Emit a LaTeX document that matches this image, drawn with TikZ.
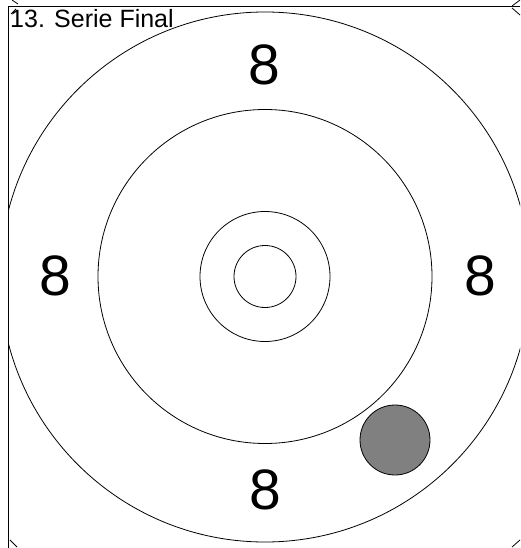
\documentclass[tikz,border=0pt]{standalone}
\usepackage{fontspec}
\setmainfont{Liberation Sans}
\usetikzlibrary{positioning}

\begin{document}
\begin{tikzpicture}[x=1pt, y=-1pt,
ring/.style={draw, line width=0.8pt},
score/.style={font=\fontsize{57}{57}\selectfont, inner sep=0pt},
edge/.style={line width=0.8pt}]
    \useasboundingbox (0,0) rectangle (520,548);
    % frame
    \draw[edge] (520,6) -- (8,6) -- (8,548);
    \draw[edge] (12,0) -- (18,4);
    \draw[edge] (11,14) -- (16,9);
    \draw[edge] (512,6) -- (520,0);
    \draw[edge] (512,8) -- (520,15);
    \draw[edge] (10,540) -- (17,547);
    \draw[edge] (512,547) -- (520,540);
    % rings
    \coordinate (centre) at (265,276.5);
    \begin{scope}
        \clip (8.4,6) rectangle (520,548);
        \draw[ring] (265,277) circle (265);
    \end{scope}
    \draw[ring] (centre) circle (167);
    \draw[ring] (centre) circle (65);
    \draw[ring] (centre) circle (31);
    % hit
    \draw[ring, fill={rgb,255:red,128;green,128;blue,128}] (395,440) circle (35);
    % scores
    \node[score] (top) at (264,65) {8};
    \node[score] (left) at (55,276) {8};
    \node[score] (right) at (480,276) {8};
    \node[score] (bottom) at (265,490) {8};
    \node[font=\fontsize{25}{25}\selectfont, inner sep=0pt, anchor=base west] (title) at (10,28) {13. Serie Final};
\end{tikzpicture}
\end{document}
